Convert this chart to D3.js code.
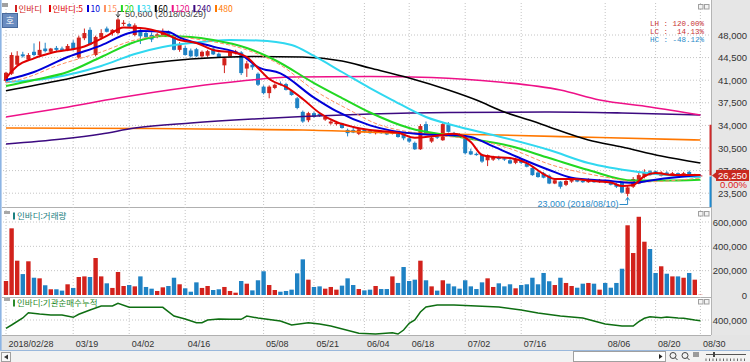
<!DOCTYPE html>
<html>
<head>
<meta charset="utf-8">
<script src="https://cdn.jsdelivr.net/npm/d3@7"></script>
<style>
  body { margin: 0; background: #ffffff; }
  svg { display: block; }
  text { font-family: "Liberation Sans", Arial, sans-serif; }
  .kr { font-family: "Noto Sans CJK KR", sans-serif; }
</style>
</head>
<body>
<div id="chart"></div>
<script>
// Chart size
var svgWidth = 750;
var svgHeight = 362;

// Trading days shown (2018)
var dates = ("02/28 03/02 03/05 03/06 03/07 03/08 03/09 03/12 03/13 03/14 03/15 03/16 03/19 03/20 03/21 03/22 03/23 03/26 03/27 03/28 03/29 03/30 " +
  "04/02 04/03 04/04 04/05 04/06 04/09 04/10 04/11 04/12 04/13 04/16 04/17 04/18 04/19 04/20 04/23 04/24 04/25 04/26 04/27 04/30 " +
  "05/02 05/03 05/04 05/08 05/09 05/10 05/11 05/14 05/15 05/16 05/17 05/18 05/21 05/23 05/24 05/25 05/28 05/29 05/30 05/31 " +
  "06/01 06/04 06/05 06/07 06/08 06/11 06/12 06/14 06/15 06/18 06/19 06/20 06/21 06/22 06/25 06/26 06/27 06/28 06/29 " +
  "07/02 07/03 07/04 07/05 07/06 07/09 07/10 07/11 07/12 07/13 07/16 07/17 07/18 07/19 07/20 07/23 07/24 07/25 07/26 07/27 07/30 07/31 " +
  "08/01 08/02 08/03 08/06 08/07 08/08 08/09 08/10 08/13 08/14 08/16 08/17 08/20 08/21 08/22 08/23 08/24 08/27 08/28 08/29 08/30").split(" ");

// Daily prices
var opens = [40900,42000,43400,45000,44200,45400,44900,45900,45400,46000,
  45900,45700,46800,44500,47500,48800,44900,47600,49000,48300,
  48300,49700,49700,48000,48800,48300,48000,47700,47800,48500,
  48000,45700,46000,45600,45800,44700,44800,45900,45100,43300,
  44700,45200,45300,42800,43400,42000,40000,39000,39800,40500,
  40400,39300,38200,36100,34800,35900,35800,34900,34300,34200,
  34300,33300,33300,32700,33300,33200,32800,33000,33000,32700,
  32800,32800,32000,31300,30300,34200,31500,32400,31700,34100,
  32800,32600,32000,30000,29600,29400,28600,28700,29100,28900,
  28600,28200,28700,28100,27400,26700,26600,26200,25000,25300,
  24800,25300,25600,25400,25200,25500,25200,25400,25200,24900,
  25100,23400,24500,25000,26000,26900,26900,26200,26700,26300,
  26600,26200,26800,26000,26250];
var highs = [42300,45300,45500,45400,45200,46700,47000,46800,46000,46300,
  46200,46600,47200,47900,49000,49200,47900,48900,49300,48900,
  50600,50300,49900,49800,49000,48600,48400,48300,49000,48700,
  48200,46900,46300,45900,46000,45600,45700,46300,45300,44600,
  45600,45700,45500,44000,43700,42200,40200,40200,40500,40800,
  40600,39500,38400,36300,36100,36100,36000,35500,34800,34700,
  34400,33500,33700,33600,33500,33400,33300,33200,33100,33300,
  32900,32900,32200,31500,34200,34600,32300,32600,34500,34500,
  33000,32800,32200,30400,29800,29600,29500,29300,29300,29100,
  28800,29000,28900,28300,27600,27000,26800,26400,25700,25400,
  25600,26000,25800,25600,25800,25700,25700,25600,25300,25100,
  25300,24600,26000,26700,27200,27100,27000,26900,26900,26800,
  26700,26800,27000,26500,26250];
var lows = [40600,41800,43300,44500,44000,44700,44800,45300,45200,45400,
  45600,45500,45600,44300,47200,46400,44700,47300,48400,47900,
  48100,49400,49200,47800,46600,47500,46900,47500,47700,47700,
  45600,45400,44800,44500,44600,44500,44600,44900,44500,42100,
  44500,45000,41800,41500,42600,40100,38800,38200,39600,40200,
  39400,38600,36500,34400,34500,35200,35300,34700,34100,34000,
  33500,32300,32800,32500,32800,32700,32600,32700,32500,32600,
  32100,31700,31300,30200,30200,32600,31300,31900,31600,32900,
  32300,32200,29500,29400,29300,28200,27700,28500,28600,28500,
  28000,28000,28000,27500,26200,25900,25800,24900,24900,24200,
  24600,25100,25200,25100,25100,25100,25100,25000,24700,24300,
  23500,23000,24300,24900,25800,26200,26400,26100,26300,26200,
  26200,26100,26200,25900,26250];
var closes = [42150,44900,44800,44700,44900,44900,45700,45500,45900,45700,
  45700,46300,45800,47600,48300,46500,47700,48300,48500,48800,
  50400,49900,49300,49500,47800,47700,47300,48100,48500,48000,
  45700,46600,44900,44700,44700,45400,45500,45000,44600,44400,
  45400,45500,42100,43600,43000,40300,39000,40000,40300,40300,
  39500,38700,36700,34600,35900,35300,35500,35300,34600,34400,
  33600,32800,32900,33400,33000,32800,33100,32800,32600,33100,
  32200,32000,31500,30300,33900,32800,32100,32100,34200,33000,
  32500,32300,29700,29500,29400,28400,29400,29100,28800,28700,
  28100,28800,28200,27600,26300,26000,25900,25000,25500,24500,
  25400,25800,25300,25200,25600,25200,25600,25200,24800,24500,
  23600,24400,25700,26300,26800,26300,26500,26700,26400,26600,
  26300,26600,26250,26250,26250];

// Daily volume (shares)
var volumes = [115000,548000,282000,172000,277000,142000,137000,80000,47000,47000,
  36000,88000,58000,148000,153000,148000,304000,153000,96000,58000,
  189000,74000,82000,71000,153000,66000,52000,33000,63000,74000,
  142000,88000,55000,27000,104000,58000,74000,41000,47000,66000,
  33000,19000,115000,93000,38000,121000,195000,82000,41000,27000,
  33000,44000,178000,293000,126000,66000,71000,52000,66000,44000,
  77000,137000,82000,49000,38000,44000,74000,49000,49000,153000,
  99000,230000,115000,126000,282000,121000,71000,36000,121000,93000,
  71000,52000,121000,71000,49000,104000,137000,66000,96000,71000,
  88000,55000,82000,88000,142000,88000,181000,113000,82000,142000,
  99000,74000,60000,93000,99000,93000,44000,99000,60000,99000,
  216000,573000,345000,643000,438000,378000,181000,236000,175000,153000,
  153000,142000,181000,126000,2000];

// Moving averages: [day index, price]
var ma5 = [[0,41340],[2,43200],[5,44390],[8,45210],[14,46220],[18,47850],[21,49160],[24,49080],
  [28,48310],[31,47225],[34,46760],[37,45680],[41,45210],[43,44590],[45,42890],[47,41180],
  [50,39950],[53,38090],[56,35920],[59,34520],[62,33750],[65,33280],[70,32850],[73,32100],
  [76,32300],[80,32700],[83,31430],[85,29410],[87,29100],[90,28950],[93,28170],[96,26470],
  [98,25690],[101,25690],[105,25380],[108,25150],[110,24610],[112,24760],[114,26160],
  [116,26620],[119,26310],[122,26310],[124,26330]];
var ma10 = [[0,41030],[5,42270],[11,44590],[17,46400],[22,48310],[24,48620],[29,48460],[31,47600],
  [37,46200],[42,44950],[45,43040],[49,42050],[55,38300],[59,36200],[65,34000],[69,33150],
  [75,32600],[81,32450],[83,32200],[87,30750],[92,28840],[97,27100],[101,25900],[107,25450],
  [112,25100],[116,25600],[124,26300]];
var ma15 = [[0,40560],[5,41800],[8,42890],[17,45370],[23,47225],[28,47845],[35,47225],[43,45680],
  [49,43350],[55,39480],[62,36070],[65,34680],[75,32600],[83,31900],[90,30400],[97,28000],
  [107,26000],[113,25230],[124,25850]];
var ma20 = [[0,40100],[5,41030],[11,42270],[17,44590],[23,46915],[28,47845],[33,47690],[37,47225],
  [43,45990],[48,44130],[55,40560],[60,38240],[65,36000],[72,33590],[81,32200],[90,30800],
  [97,28950],[104,27090],[112,25450],[117,25450],[124,25600]];
var ma33 = [[0,40720],[8,41340],[17,43200],[23,45060],[28,46140],[33,46760],[40,47225],[45,47150],
  [51,46450],[55,44750],[60,42270],[65,39790],[69,37930],[75,35300],[81,33750],[87,32510],
  [97,30190],[104,28170],[113,26780],[120,26160],[124,26000]];
var ma60 = [[0,39370],[10,41030],[20,42890],[33,44280],[44,44670],[53,44590],[60,43970],[65,42890],
  [72,41340],[79,39480],[84,37930],[89,36070],[94,34680],[97,33750],[104,31740],[110,30650],
  [117,29260],[124,28170]];
var ma120 = [[0,35300],[10,36690],[20,38240],[33,39950],[42,40870],[51,41490],[65,41570],[76,41420],
  [88,40720],[99,39480],[106,37930],[115,36850],[124,35610]];
var ma240 = [[0,31120],[10,31890],[17,32670],[23,33590],[33,34370],[44,34990],[53,35380],[65,35760],
  [79,36000],[97,36070],[110,35920],[124,35610]];
var ma480 = [[0,33590],[26,33510],[53,33280],[70,32820],[88,32510],[106,32120],[124,31740]];

// Institutional net buying, cumulative: [day index, shares]
var instCum = [[0,358500],[1,375000],[3,410000],[4,436500],[6,430000],[8,425000],[10,425000],
  [12,413500],[13,428500],[15,450000],[17,470000],[19,470000],[20,483500],[22,463500],[24,463500],
  [28,463500],[30,420000],[32,405000],[34,386500],[35,386500],[36,400000],[38,405000],[40,403500],
  [42,403500],[43,420000],[45,410000],[49,395000],[51,375000],[54,386500],[56,380000],[58,370000],
  [63,333500],[66,330000],[69,336500],[70,330000],[71,350000],[72,383500],[73,400000],[74,440000],
  [75,465000],[77,475000],[80,475000],[84,470000],[88,465000],[92,450000],[95,435000],[99,420000],
  [103,410000],[105,395000],[107,380000],[110,370000],[112,370000],[113,391500],[114,408500],
  [115,416500],[117,411500],[118,415000],[120,410000],[121,408500],[123,400000],[124,396500]];

// Axis ticks
var priceTicks = [48000, 44500, 41000, 37500, 34000, 30500, 27000, 23500];
var volTicks = [600000, 400000, 200000, 0];
var instTicks = [400000];
var tickDates = ["02/28","03/19","04/02","04/16","05/08","05/21","06/04","06/18","07/02","07/16","08/06","08/20","08/30"];
var tickLabels = ["2018/02/28","03/19","04/02","04/16","05/08","05/21","06/04","06/18","07/02","07/16","08/06","08/20","08/30"];

// Legend
var maNames = ["5","10","15","20","33","60","120","240","480"];
var maColors = ["#e00000","#0000d8","#ff9060","#22d822","#30d8f0","#000000","#ee1188","#3c0a80","#ff7700"];
var maSeries = [ma5, ma10, ma15, ma20, ma33, ma60, ma120, ma240, ma480];

var upColor = "#d2221c";
var downColor = "#1f82c4";
var gridColor = "#c4c4c4";

var svg = d3.select("#chart")
  .append("svg")
  .attr("width", svgWidth)
  .attr("height", svgHeight);

// Scales
var xScale = d3.scaleBand()
  .domain(dates)
  .range([3.2, 703.2]);
var xc = d => xScale(d) + xScale.bandwidth() / 2;

var yPrice = d3.scaleLinear().domain([23500, 48000]).range([193.2, 35]);
var yVol = d3.scaleLinear().domain([0, 600000]).range([295, 222]);
var yInst = d3.scaleLinear().domain([330000, 480000]).range([334, 304]);

// Backgrounds
svg.append("rect").attr("width", svgWidth).attr("height", svgHeight).attr("fill", "#ffffff");
svg.append("rect").attr("x", 712).attr("y", 0).attr("width", 38).attr("height", 335).attr("fill", "#e6e6e6");
svg.append("rect").attr("x", 0).attr("y", 335).attr("width", 750).attr("height", 15).attr("fill", "#e4e4e4");
svg.append("rect").attr("x", 0).attr("y", 350).attr("width", 750).attr("height", 12).attr("fill", "#f2f2f2");
svg.append("line").attr("x1", 0).attr("x2", 750).attr("y1", 350.5).attr("y2", 350.5).attr("stroke", "#9ab8dc");
svg.append("line").attr("x1", 711.5).attr("x2", 711.5).attr("y1", 0).attr("y2", 335).attr("stroke", "#b4b4b4");
svg.append("line").attr("x1", 0.8).attr("x2", 0.8).attr("y1", 0).attr("y2", 350).attr("stroke", "#8cb4e4").attr("stroke-width", 1.6);

// Pane separators
[207.5, 297.5, 335.5].forEach(function(y) {
  svg.append("line").attr("x1", 2).attr("x2", 711).attr("y1", y).attr("y2", y).attr("stroke", "#b0b0b0");
});

// Vertical grid at date ticks
svg.append("g").selectAll("line")
  .data(tickDates)
  .enter()
  .append("line")
  .attr("x1", d => xc(d)).attr("x2", d => xc(d))
  .attr("y1", 3).attr("y2", 335)
  .attr("stroke", gridColor).attr("stroke-dasharray", "1,2");

// Horizontal grids
function hGrid(ticks, scale) {
  svg.append("g").selectAll("line")
    .data(ticks)
    .enter()
    .append("line")
    .attr("x1", 3).attr("x2", 711)
    .attr("y1", d => scale(d)).attr("y2", d => scale(d))
    .attr("stroke", gridColor).attr("stroke-dasharray", "1,2");
}
hGrid(priceTicks, yPrice);
hGrid(volTicks.filter(d => d > 0), yVol);
hGrid(instTicks, yInst);

// Clip for the price pane
svg.append("clipPath").attr("id", "priceClip")
  .append("rect").attr("x", 3).attr("y", 3).attr("width", 708).attr("height", 204);

var priceGroup = svg.append("g").attr("clip-path", "url(#priceClip)");

var candleData = dates.map(function(d, i) {
  return {date: d, o: opens[i], h: highs[i], l: lows[i], c: closes[i], v: volumes[i]};
});
var colorOf = d => d.c >= d.o ? upColor : downColor;

// Candles: wicks then bodies
priceGroup.append("g").selectAll("line")
  .data(candleData)
  .enter()
  .append("line")
  .attr("x1", d => xc(d.date)).attr("x2", d => xc(d.date))
  .attr("y1", d => yPrice(d.h)).attr("y2", d => yPrice(d.l))
  .attr("stroke", colorOf).attr("stroke-width", 1);

priceGroup.append("g").selectAll("rect")
  .data(candleData)
  .enter()
  .append("rect")
  .attr("x", d => xc(d.date) - 2)
  .attr("width", 4)
  .attr("y", d => yPrice(Math.max(d.o, d.c)))
  .attr("height", d => Math.max(1, Math.abs(yPrice(d.o) - yPrice(d.c))))
  .attr("fill", colorOf);

// Moving average lines, longest first so the short ones sit on top
var maLine = d3.line()
  .x(p => xc(dates[p[0]]))
  .y(p => yPrice(p[1]))
  .curve(d3.curveMonotoneX);

var drawOrder = [8, 7, 6, 5, 4, 3, 2, 1, 0];
drawOrder.forEach(function(k) {
  var path = priceGroup.append("path")
    .datum(maSeries[k])
    .attr("d", maLine)
    .attr("fill", "none")
    .attr("stroke", maColors[k])
    .attr("stroke-width", k === 2 ? 1 : (k < 5 ? 2 : 1.6));
  if (k === 2) path.attr("stroke-dasharray", "4,2");
});

// Period high / low markers
var hiIdx = d3.maxIndex(highs);
var loIdx = d3.minIndex(lows);
var fmt = d3.format(",");
var hx = xc(dates[hiIdx]);
var lx = xc(dates[loIdx]);

svg.append("path")
  .attr("d", `M${hx + 6},11.5H${hx}V${yPrice(highs[hiIdx]) - 1}`)
  .attr("fill", "none").attr("stroke", "#444");
svg.append("path")
  .attr("d", `M${hx - 2},${yPrice(highs[hiIdx]) - 4}L${hx},${yPrice(highs[hiIdx]) - 1}L${hx + 2},${yPrice(highs[hiIdx]) - 4}`)
  .attr("fill", "none").attr("stroke", "#444");
svg.append("text")
  .attr("x", hx + 7).attr("y", 17)
  .attr("font-size", "9px").attr("fill", "#444")
  .text(`${fmt(highs[hiIdx])} (2018/${dates[hiIdx]})`);

svg.append("path")
  .attr("d", `M${lx - 8},204.5H${lx}V${yPrice(lows[loIdx]) + 1}`)
  .attr("fill", "none").attr("stroke", "#2a8ac8");
svg.append("path")
  .attr("d", `M${lx - 2},${yPrice(lows[loIdx]) + 4}L${lx},${yPrice(lows[loIdx]) + 1}L${lx + 2},${yPrice(lows[loIdx]) + 4}`)
  .attr("fill", "none").attr("stroke", "#2a8ac8");
svg.append("text")
  .attr("x", lx - 9).attr("y", 206.5)
  .attr("text-anchor", "end")
  .attr("font-size", "9px").attr("fill", "#2a8ac8")
  .text(`${fmt(lows[loIdx])} (2018/${dates[loIdx]})`);

// LH / LC / HC ratios
var last = closes[closes.length - 1];
var pct = v => (v * 100).toFixed(2).padStart(6, " ") + "%";
var ratioRows = [
  ["LH : " + pct(highs[hiIdx] / lows[loIdx] - 1), "#c83232"],
  ["LC : " + pct(last / lows[loIdx] - 1), "#c83232"],
  ["HC : " + pct(last / highs[hiIdx] - 1), "#2a8ac8"]
];
svg.append("g").selectAll("text")
  .data(ratioRows)
  .enter()
  .append("text")
  .attr("x", 704).attr("y", (d, i) => 26 + i * 8.2)
  .attr("text-anchor", "end")
  .style("white-space", "pre")
  .style("font-family", "'Liberation Mono', monospace")
  .attr("font-size", "7.5px")
  .attr("fill", d => d[1])
  .text(d => d[0]);

// Volume bars
svg.append("g").selectAll("rect")
  .data(candleData)
  .enter()
  .append("rect")
  .attr("x", d => xc(d.date) - 2.2)
  .attr("width", 4.4)
  .attr("y", d => yVol(d.v))
  .attr("height", d => yVol(0) - yVol(d.v))
  .attr("fill", colorOf);

// Institutional cumulative line
svg.append("path")
  .datum(instCum)
  .attr("d", d3.line().x(p => xc(dates[p[0]])).y(p => yInst(p[1])))
  .attr("fill", "none")
  .attr("stroke", "#0e6e12")
  .attr("stroke-width", 1.5);

// Right axes
function rightAxis(scale, ticks) {
  svg.append("g")
    .attr("transform", "translate(747,0)")
    .call(d3.axisLeft(scale).tickValues(ticks).tickSize(0).tickPadding(0).tickFormat(fmt))
    .call(g => g.select(".domain").remove())
    .call(g => g.selectAll("text")
      .attr("font-family", "'Liberation Sans', Arial, sans-serif")
      .attr("font-size", "9.5px")
      .attr("fill", "#333"));
}
rightAxis(yPrice, priceTicks);
rightAxis(yVol, volTicks);
rightAxis(yInst, instTicks);

// Date axis
svg.append("g")
  .attr("transform", "translate(0,337.5)")
  .call(d3.axisBottom(xScale).tickValues(tickDates).tickSize(0).tickFormat((d, i) => tickLabels[i]))
  .call(g => g.select(".domain").remove())
  .call(g => g.selectAll("text")
    .attr("text-anchor", "start")
    .attr("dx", 2.5)
    .attr("font-family", "'Liberation Sans', Arial, sans-serif")
    .attr("font-size", "9px")
    .attr("fill", "#333"));

// Price limit bars and current price marker
var prevClose = closes[closes.length - 2];
var upperLimit = Math.floor(prevClose * 1.3 / 50) * 50;
svg.append("rect")
  .attr("x", 709.5).attr("width", 2)
  .attr("y", yPrice(upperLimit)).attr("height", yPrice(last) - yPrice(upperLimit))
  .attr("fill", "#d02a2a");
svg.append("rect")
  .attr("x", 709.5).attr("width", 2)
  .attr("y", yPrice(last) + 1).attr("height", 207 - yPrice(last) - 1)
  .attr("fill", "#1f8ad0");
svg.append("rect")
  .attr("x", 716).attr("y", yPrice(last) - 5.5)
  .attr("width", 33).attr("height", 11)
  .attr("fill", "#c8281e");
svg.append("path")
  .attr("d", `M712,${yPrice(last)}L716.5,${yPrice(last) - 3.5}V${yPrice(last) + 3.5}Z`)
  .attr("fill", "#c8281e");
svg.append("text")
  .attr("x", 747).attr("y", yPrice(last) + 3.5)
  .attr("text-anchor", "end")
  .attr("font-size", "9.5px").attr("fill", "#ffffff")
  .text(fmt(last));
svg.append("text")
  .attr("x", 747).attr("y", yPrice(last) + 12.5)
  .attr("text-anchor", "end")
  .attr("font-size", "9.5px").attr("fill", "#e02020")
  .text(((last / prevClose - 1) * 100).toFixed(2) + "%");

// Price pane legend, laid out left to right from measured text widths
svg.append("rect").attr("x", 2).attr("y", 3).attr("width", 6).attr("height", 4).attr("fill", "#a0a0a0");
var legendItems = [{label: "인바디", color: "#d02020"}].concat(maNames.map(function(n, i) {
  return {label: i === 0 ? "인바디:" + n : n, color: maColors[i]};
}));
var legendG = svg.append("g");
var cursorX = 15;
legendItems.forEach(function(item, i) {
  var g = legendG.append("g").attr("transform", `translate(${cursorX},0)`);
  g.append("rect")
    .attr("x", 0).attr("y", 5).attr("width", 2).attr("height", 7)
    .attr("fill", item.color);
  var t = g.append("text")
    .attr("class", "kr")
    .attr("x", 3.5).attr("y", 12)
    .attr("font-size", "8.5px")
    .attr("fill", item.color)
    .text(item.label);
  cursorX += 3.5 + t.node().getComputedTextLength() + (i === 0 ? 7 : 4);
});

// "호" button
svg.append("rect").attr("x", 2.5).attr("y", 13.5).attr("width", 15).attr("height", 14)
  .attr("fill", "#6a8cc0").attr("stroke", "#48699c");
svg.append("text").attr("class", "kr")
  .attr("x", 10).attr("y", 24).attr("text-anchor", "middle")
  .attr("font-size", "9px").attr("fill", "#ffffff").text("호");

// Sub-pane titles
var paneTitles = [
  {y: 216, label: "인바디:거래량", color: "#1a8080"},
  {y: 303, label: "인바디:기관순매수누적", color: "#2a8a2a"}
];
paneTitles.forEach(function(t) {
  svg.append("rect").attr("x", 4).attr("y", t.y - 5).attr("width", 6).attr("height", 3).attr("fill", "#a8a8a8");
  svg.append("rect").attr("x", 13).attr("y", t.y - 3.5).attr("width", 2).attr("height", 7).attr("fill", t.color);
  svg.append("text").attr("class", "kr")
    .attr("x", 17).attr("y", t.y + 3)
    .attr("font-size", "8.5px").attr("fill", t.color)
    .text(t.label);
});

// Small window buttons at each pane's corner
[4, 211, 299].forEach(function(y) {
  [698, 704].forEach(function(x) {
    svg.append("rect").attr("x", x + 0.5).attr("y", y + 0.5).attr("width", 4.5).attr("height", 4.5)
      .attr("fill", "#f4f4f4").attr("stroke", "#a0a0a0");
  });
});

// Bottom toolbar
svg.append("rect").attr("x", 1.5).attr("y", 352.5).attr("width", 9).attr("height", 9)
  .attr("fill", "#f8f8f8").attr("stroke", "#a0a0a0");
svg.append("path").attr("d", "M4,357L8,354.5V359.5Z").attr("fill", "#333");
svg.append("rect").attr("x", 573.5).attr("y", 351.5).attr("width", 92).attr("height", 10)
  .attr("fill", "#ffffff").attr("stroke", "#a0a0a0");
svg.append("path").attr("d", "M659,354L662.5,356.5L659,359Z").attr("fill", "#222");
[673, 685].forEach(function(x) {
  svg.append("circle").attr("cx", x).attr("cy", 355.5).attr("r", 3)
    .attr("fill", "none").attr("stroke", "#444");
  svg.append("line").attr("x1", x + 2).attr("y1", 357.5).attr("x2", x + 4.5).attr("y2", 360)
    .attr("stroke", "#444");
});
[694, 696, 698].forEach(function(x) {
  svg.append("line").attr("x1", x).attr("x2", x).attr("y1", 352).attr("y2", 357).attr("stroke", "#444");
});
svg.append("line").attr("x1", 706).attr("x2", 746).attr("y1", 354.5).attr("y2", 354.5).attr("stroke", "#555");
svg.append("rect").attr("x", 713).attr("y", 352).attr("width", 2).attr("height", 5).attr("fill", "#444");
d3.range(706, 747, 3.5).forEach(function(x) {
  svg.append("line").attr("x1", x).attr("x2", x).attr("y1", 358.5).attr("y2", 361).attr("stroke", "#666");
});
</script>
</body>
</html>
